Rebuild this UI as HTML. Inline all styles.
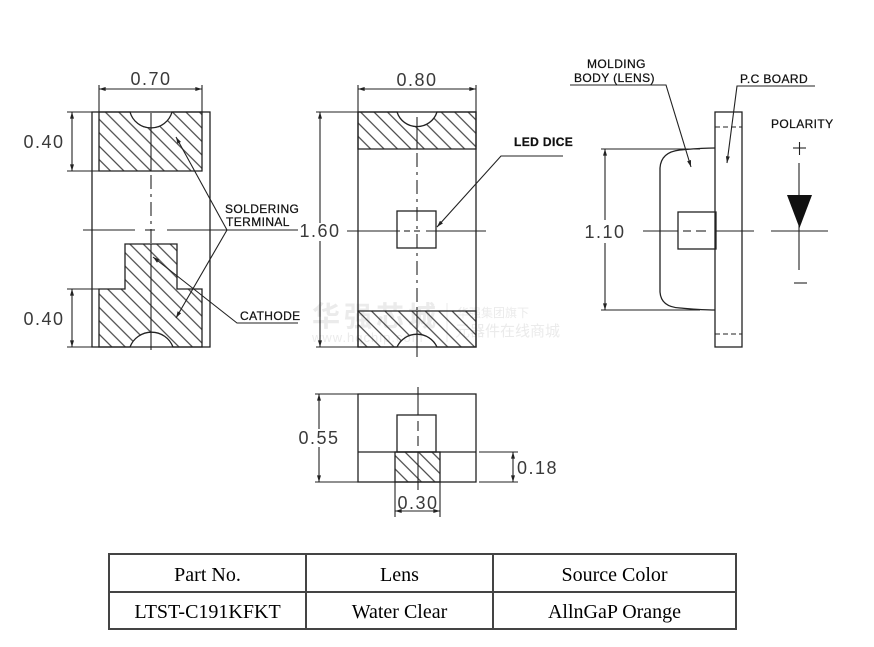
<!DOCTYPE html>
<html><head><meta charset="utf-8">
<style>
html,body{margin:0;padding:0;background:#fff;}
svg{display:block;}
.l{stroke:#222;stroke-width:1.3;fill:none;}
.hf{stroke:#222;stroke-width:1.3;fill:url(#h);}
.c{stroke:#222;stroke-width:1.1;fill:none;}
.dim{font-family:"Liberation Sans",sans-serif;font-size:18px;fill:#3a3a3a;letter-spacing:1.5px;}
.lab{font-family:"Liberation Sans",sans-serif;font-size:12px;fill:#111;stroke:#111;stroke-width:0.25;letter-spacing:0.4px;}
.tb{font-family:"Liberation Serif",serif;font-size:20px;fill:#000;}
.wm{font-family:"Liberation Sans","Noto Sans CJK SC",sans-serif;fill:#ebebeb;}
</style></head><body>
<svg width="874" height="647" viewBox="0 0 874 647" xmlns="http://www.w3.org/2000/svg">
<defs>
<pattern id="h" width="9.5" height="9.5" patternUnits="userSpaceOnUse" patternTransform="rotate(45)">
<line x1="0" y1="4.75" x2="9.5" y2="4.75" stroke="#333" stroke-width="1.1"/>
</pattern>
<marker id="a" viewBox="0 0 10 6" refX="10" refY="3" markerWidth="8" markerHeight="4" markerUnits="userSpaceOnUse" orient="auto-start-reverse">
<path d="M0,0 L10,3 L0,6 z" fill="#222"/>
</marker>
</defs>

<!-- watermark -->
<text class="wm" x="312" y="326" font-size="28" font-weight="bold" letter-spacing="4">华强芯城</text>
<text class="wm" x="312" y="342" font-size="13" letter-spacing="1">www.hqchip.com</text>
<line x1="447" y1="303" x2="447" y2="342" stroke="#ebebeb" stroke-width="1"/>
<text class="wm" x="457" y="317" font-size="12">华强集团旗下</text>
<text class="wm" x="455" y="336" font-size="15">元器件在线商城</text>

<!-- ============ Drawing 1 ============ -->
<rect x="92" y="112" width="118" height="235" class="l"/>
<path d="M99,112 L130,112 A21.8,21.8 0 0 0 172,112 L202,112 L202,171 L99,171 Z" class="hf"/>
<path d="M125,244 L177,244 L177,289 L202,289 L202,347 L173,347 A23,23 0 0 0 130,347 L99,347 L99,289 L125,289 Z" class="hf"/>
<!-- centerlines -->
<line x1="151" y1="113" x2="151" y2="171" class="c"/>
<line x1="151" y1="175" x2="151" y2="244" class="c" stroke-dasharray="14,5,3,5"/>
<line x1="151" y1="244" x2="151" y2="350" class="c"/>
<line x1="83" y1="230" x2="135" y2="230" class="c"/>
<line x1="145" y1="230" x2="155" y2="230" class="c"/>
<line x1="167" y1="230" x2="298" y2="230" class="c"/>
<!-- dims -->
<line x1="99" y1="85" x2="99" y2="112" class="c"/>
<line x1="202" y1="85" x2="202" y2="112" class="c"/>
<line x1="99" y1="89" x2="202" y2="89" class="c" marker-start="url(#a)" marker-end="url(#a)"/>
<text class="dim" x="151" y="85" text-anchor="middle">0.70</text>
<line x1="67" y1="112" x2="92" y2="112" class="c"/>
<line x1="67" y1="171" x2="99" y2="171" class="c"/>
<line x1="72" y1="112" x2="72" y2="171" class="c" marker-start="url(#a)" marker-end="url(#a)"/>
<text class="dim" x="44" y="148" text-anchor="middle">0.40</text>
<line x1="67" y1="289" x2="99" y2="289" class="c"/>
<line x1="67" y1="347" x2="92" y2="347" class="c"/>
<line x1="72" y1="289" x2="72" y2="347" class="c" marker-start="url(#a)" marker-end="url(#a)"/>
<text class="dim" x="44" y="325" text-anchor="middle">0.40</text>
<!-- leaders -->
<line x1="227" y1="230" x2="176" y2="137" class="c" marker-end="url(#a)"/>
<line x1="227" y1="230" x2="176" y2="318" class="c" marker-end="url(#a)"/>
<text class="lab" x="225" y="213">SOLDERING</text>
<text class="lab" x="226" y="226">TERMINAL</text>
<polyline points="298,323 237,323 153,257" class="c" marker-end="url(#a)"/>
<text class="lab" x="240" y="320">CATHODE</text>

<!-- ============ Drawing 2 ============ -->
<rect x="358" y="112" width="118" height="235" class="l"/>
<path d="M358,112 L397,112 A21,21 0 0 0 437,112 L476,112 L476,149 L358,149 Z" class="hf"/>
<path d="M358,311 L476,311 L476,347 L437,347 A22,22 0 0 0 397,347 L358,347 Z" class="hf"/>
<rect x="397" y="211" width="39" height="37" class="l"/>
<line x1="417" y1="117" x2="417" y2="149" class="c"/>
<line x1="417" y1="153" x2="417" y2="311" class="c" stroke-dasharray="14,5,3,5"/>
<line x1="417" y1="311" x2="417" y2="357" class="c"/>
<line x1="347" y1="231" x2="400" y2="231" class="c"/>
<line x1="404" y1="231" x2="410" y2="231" class="c"/>
<line x1="414" y1="231" x2="420" y2="231" class="c"/>
<line x1="426" y1="231" x2="486" y2="231" class="c"/>
<!-- dims -->
<line x1="358" y1="85" x2="358" y2="112" class="c"/>
<line x1="476" y1="85" x2="476" y2="112" class="c"/>
<line x1="358" y1="89" x2="476" y2="89" class="c" marker-start="url(#a)" marker-end="url(#a)"/>
<text class="dim" x="417" y="86" text-anchor="middle">0.80</text>
<line x1="316" y1="112" x2="358" y2="112" class="c"/>
<line x1="316" y1="347" x2="358" y2="347" class="c"/>
<line x1="320" y1="223" x2="320" y2="112" class="c" marker-end="url(#a)"/>
<line x1="320" y1="241" x2="320" y2="347" class="c" marker-end="url(#a)"/>
<text class="dim" x="320" y="237" text-anchor="middle">1.60</text>
<!-- leader -->
<polyline points="563,156 501,156 437,227" class="c" marker-end="url(#a)"/>
<text class="lab" x="514" y="146" font-weight="bold" letter-spacing="0.8">LED DICE</text>

<!-- ============ Drawing 3 ============ -->
<rect x="715" y="112" width="27" height="235" class="l"/>
<line x1="715" y1="127" x2="742" y2="127" class="c" stroke-dasharray="5,3"/>
<line x1="715" y1="334" x2="742" y2="334" class="c" stroke-dasharray="5,3"/>
<path d="M715,148 C702,148 692,149 680,150 Q661,152 660,168 L660,292 Q661,307 680,308 C692,309 702,310 715,310" class="l"/>
<rect x="678" y="212" width="38" height="37" class="l"/>
<line x1="643" y1="231" x2="678" y2="231" class="c"/>
<line x1="683" y1="231" x2="691" y2="231" class="c"/>
<line x1="696" y1="231" x2="706" y2="231" class="c"/>
<line x1="716" y1="231" x2="754" y2="231" class="c"/>
<!-- dim 1.10 -->
<line x1="601" y1="149" x2="700" y2="149" class="c"/>
<line x1="601" y1="310" x2="700" y2="310" class="c"/>
<line x1="605" y1="220" x2="605" y2="149" class="c" marker-end="url(#a)"/>
<line x1="605" y1="243" x2="605" y2="310" class="c" marker-end="url(#a)"/>
<text class="dim" x="605" y="238" text-anchor="middle">1.10</text>
<!-- labels -->
<text class="lab" x="587" y="68">MOLDING</text>
<text class="lab" x="574" y="82">BODY (LENS)</text>
<polyline points="570,85 666,85 691,167" class="c" marker-end="url(#a)"/>
<text class="lab" x="740" y="83">P.C BOARD</text>
<polyline points="815,86 737,86 727,163" class="c" marker-end="url(#a)"/>
<text class="lab" x="771" y="128">POLARITY</text>
<!-- diode -->
<line x1="793" y1="148" x2="806" y2="148" class="c"/>
<line x1="799.5" y1="142" x2="799.5" y2="155" class="c"/>
<line x1="799" y1="163" x2="799" y2="270" class="c"/>
<path d="M787,195 L812,195 L799.5,228 Z" fill="#111"/>
<line x1="771" y1="231" x2="828" y2="231" class="c"/>
<line x1="794" y1="283" x2="807" y2="283" class="c"/>

<!-- ============ Drawing 4 ============ -->
<rect x="358" y="394" width="118" height="88" class="l"/>
<line x1="358" y1="452" x2="476" y2="452" class="l"/>
<rect x="397" y="415" width="39" height="37" class="l"/>
<rect x="395" y="452" width="45" height="30" class="hf"/>
<line x1="418" y1="387" x2="418" y2="415" class="c"/>
<line x1="418" y1="421" x2="418" y2="431" class="c"/>
<line x1="418" y1="436" x2="418" y2="446" class="c"/>
<line x1="418" y1="452" x2="418" y2="490" class="c"/>
<!-- 0.55 -->
<line x1="315" y1="394" x2="358" y2="394" class="c"/>
<line x1="315" y1="482" x2="358" y2="482" class="c"/>
<line x1="319" y1="429" x2="319" y2="394" class="c" marker-end="url(#a)"/>
<line x1="319" y1="447" x2="319" y2="482" class="c" marker-end="url(#a)"/>
<text class="dim" x="319" y="444" text-anchor="middle">0.55</text>
<!-- 0.18 -->
<line x1="479" y1="452" x2="518" y2="452" class="c"/>
<line x1="479" y1="482" x2="518" y2="482" class="c"/>
<line x1="513" y1="452" x2="513" y2="482" class="c" marker-start="url(#a)" marker-end="url(#a)"/>
<text class="dim" x="517" y="474">0.18</text>
<!-- 0.30 -->
<line x1="395" y1="482" x2="395" y2="517" class="c"/>
<line x1="440" y1="482" x2="440" y2="517" class="c"/>
<line x1="395" y1="511" x2="440" y2="511" class="c" marker-start="url(#a)" marker-end="url(#a)"/>
<text class="dim" x="418" y="509" text-anchor="middle" font-size="17">0.30</text>

<!-- ============ Table ============ -->
<rect x="109" y="554" width="627" height="75" fill="none" stroke="#444" stroke-width="2"/>
<line x1="109" y1="592" x2="736" y2="592" stroke="#444" stroke-width="2"/>
<line x1="306" y1="554" x2="306" y2="629" stroke="#444" stroke-width="2"/>
<line x1="493" y1="554" x2="493" y2="629" stroke="#444" stroke-width="2"/>
<text class="tb" x="207.5" y="581" text-anchor="middle">Part No.</text>
<text class="tb" x="399.5" y="581" text-anchor="middle">Lens</text>
<text class="tb" x="614.5" y="581" text-anchor="middle">Source Color</text>
<text class="tb" x="207.5" y="618" text-anchor="middle">LTST-C191KFKT</text>
<text class="tb" x="399.5" y="618" text-anchor="middle">Water Clear</text>
<text class="tb" x="614.5" y="618" text-anchor="middle">AllnGaP Orange</text>
</svg>
</body></html>
